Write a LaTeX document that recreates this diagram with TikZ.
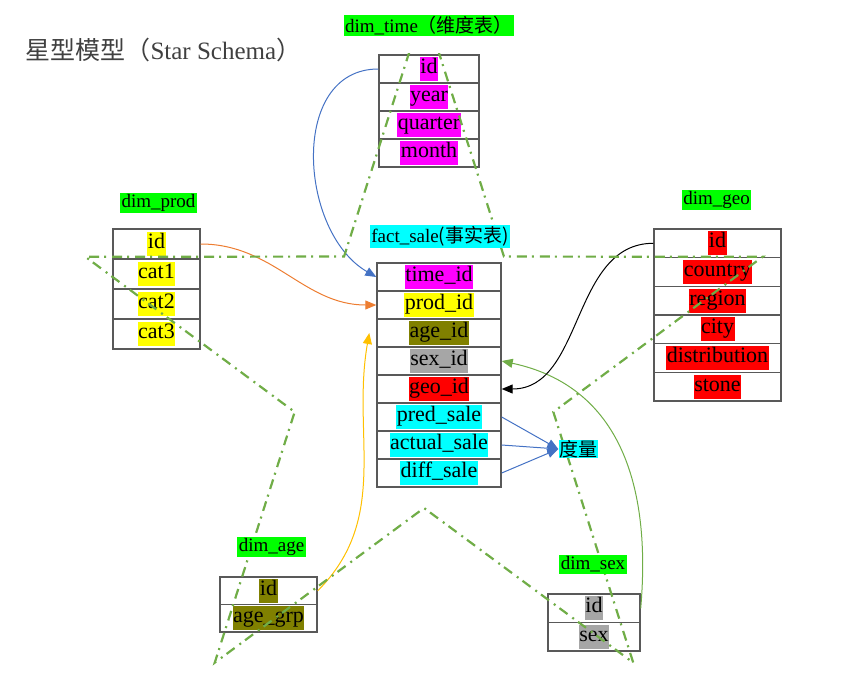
\documentclass[tikz,border=0pt]{standalone}
\usepackage{fontspec}
\setmainfont{Liberation Serif}
\newfontfamily\cjk{Noto Sans CJK SC}
\usetikzlibrary{arrows.meta}
\definecolor{starline}{HTML}{70AD47}
\definecolor{cellline}{HTML}{595959}
\definecolor{arrblue}{HTML}{4472C4}
\definecolor{arrorange}{HTML}{ED7D31}
\definecolor{arrgold}{HTML}{FFC000}
\definecolor{arrgreen}{HTML}{70AD47}
\definecolor{hlmag}{HTML}{FF00FF}
\definecolor{hlyel}{HTML}{FFFF00}
\definecolor{hlolive}{HTML}{808000}
\definecolor{hlgray}{HTML}{A6A6A6}
\definecolor{hlred}{HTML}{FF0000}
\definecolor{hlcyan}{HTML}{00FFFF}
\definecolor{hlgreen}{HTML}{00FF00}
\newcommand{\hl}[2]{{\setlength{\fboxsep}{0.5pt}\colorbox{#1}{\strut #2}}}

\begin{document}
\begin{tikzpicture}[x=1pt, y=-1pt]
            \tikzstyle{row}=[draw=cellline,line width=1.4pt,inner sep=0pt,minimum height=28,font=\fontsize{22}{23}\selectfont]
            \tikzstyle{tname}=[fill=hlgreen,inner sep=1.5pt,font=\fontsize{19}{21}\selectfont]
            \tikzstyle{link}=[line width=1pt,-{Triangle[length=11pt,width=9pt]}]
            \tikzstyle{star}=[starline,line width=2.2pt,dash pattern=on 10pt off 5pt on 2pt off 6pt]
            \useasboundingbox (0,0) rectangle (865,680);

            \node[anchor=west,text=black!75,font=\fontsize{25}{27}\selectfont] (title) at (22,50) {{\cjk 星型模型（}Star Schema{\cjk ）}};

            % dim_time
            \node[row,minimum width=100] (T_1) at (429,69)  {\hl{hlmag}{id}};
            \node[row,minimum width=100] (T_2) at (429,97)  {\hl{hlmag}{year}};
            \node[row,minimum width=100] (T_3) at (429,125) {\hl{hlmag}{quarter}};
            \node[row,minimum width=100] (T_4) at (429,153) {\hl{hlmag}{month}};

            % dim_prod
            \node[row,minimum width=87,minimum height=30] (P_1) at (156.5,244) {\hl{hlyel}{id}};
            \node[row,minimum width=87,minimum height=30] (P_2) at (156.5,274) {\hl{hlyel}{cat1}};
            \node[row,minimum width=87,minimum height=30] (P_3) at (156.5,304) {\hl{hlyel}{cat2}};
            \node[row,minimum width=87,minimum height=30] (P_4) at (156.5,334) {\hl{hlyel}{cat3}};

            % fact_sale
            \node[row,minimum width=124] (F_1) at (439,277) {\hl{hlmag}{time\_id}};
            \node[row,minimum width=124] (F_2) at (439,305) {\hl{hlyel}{prod\_id}};
            \node[row,minimum width=124] (F_3) at (439,333) {\hl{hlolive}{age\_id}};
            \node[row,minimum width=124] (F_4) at (439,361) {\hl{hlgray}{sex\_id}};
            \node[row,minimum width=124] (F_5) at (439,389) {\hl{hlred}{geo\_id}};
            \node[row,minimum width=124] (F_6) at (439,417) {\hl{hlcyan}{pred\_sale}};
            \node[row,minimum width=124] (F_7) at (439,445) {\hl{hlcyan}{actual\_sale}};
            \node[row,minimum width=124] (F_8) at (439,473) {\hl{hlcyan}{diff\_sale}};

            % dim_geo
            \node[row,minimum width=127,minimum height=28.7] (G_1) at (717.5,243.3) {\hl{hlred}{id}};
            \node[row,minimum width=127,minimum height=28.7] (G_2) at (717.5,272)   {\hl{hlred}{country}};
            \node[row,minimum width=127,minimum height=28.7] (G_3) at (717.5,300.7) {\hl{hlred}{region}};
            \node[row,minimum width=127,minimum height=28.7] (G_4) at (717.5,329.3) {\hl{hlred}{city}};
            \node[row,minimum width=127,minimum height=28.7] (G_5) at (717.5,358)   {\hl{hlred}{distribution}};
            \node[row,minimum width=127,minimum height=28.7] (G_6) at (717.5,386.7) {\hl{hlred}{stone}};

            % dim_age
            \node[row,minimum width=97,minimum height=27.5] (A_1) at (268.5,590.8) {\hl{hlolive}{id}};
            \node[row,minimum width=97,minimum height=27.5] (A_2) at (268.5,618.3) {\hl{hlolive}{age\_grp}};

            % dim_sex
            \node[row,minimum width=92,minimum height=28.5] (S_1) at (594,608.3) {\hl{hlgray}{id}};
            \node[row,minimum width=92,minimum height=28.5] (S_2) at (594,636.8) {\hl{hlgray}{sex}};

            \node[fill=hlcyan,inner sep=0.5pt,font=\fontsize{19}{21}\selectfont\cjk] (M) at (578,449) {度量};

            \draw[link,arrblue] (T_1.west) to[out=180,in=150,looseness=1.1] (F_1.west);
            \draw[link,arrorange] (P_1.east) to[out=0,in=180] (F_2.west);
            \draw[link,arrgold] (A_1.east) to[out=45,in=260] ([xshift=-7pt]F_3.west);
            \draw[link,arrgreen] (S_1.east) to[out=85,in=-12,looseness=1.1] (F_4.east);
            \draw[link,black] (G_1.west) to[out=180,in=0] (F_5.east);
            \draw[link,arrblue] (F_6.east) -- (M.west);
            \draw[link,arrblue] (F_7.east) -- (M.west);
            \draw[link,arrblue] (F_8.east) -- (M.west);

            % the star (its top point stays hidden)
            \begin{scope}
                \clip (0,53) rectangle (865,680);
                \draw[star,shift={(424,369)}] (270:356 and 363)
                    \foreach \k in {0,...,4} { -- ({306+72*\k}:136 and 139) -- ({342+72*\k}:356 and 363) } -- cycle;
            \end{scope}

            \node[tname] (L_T) at (429,25.5) {dim\_time{\cjk （维度表）}};
            \node[tname] (L_P) at (158.5,203) {dim\_prod};
            \node[tname,fill=hlcyan] (L_F) at (440,236.5) {fact\_sale{\cjk (事实表)}};
            \node[tname] (L_G) at (716.5,200) {dim\_geo};
            \node[tname] (L_A) at (271.5,547) {dim\_age};
            \node[tname] (L_S) at (593,564.5) {dim\_sex};
            \node[fill=hlcyan,inner sep=0.5pt,font=\fontsize{19}{21}\selectfont\cjk] at (M) {度量};
\end{tikzpicture}
\end{document}
